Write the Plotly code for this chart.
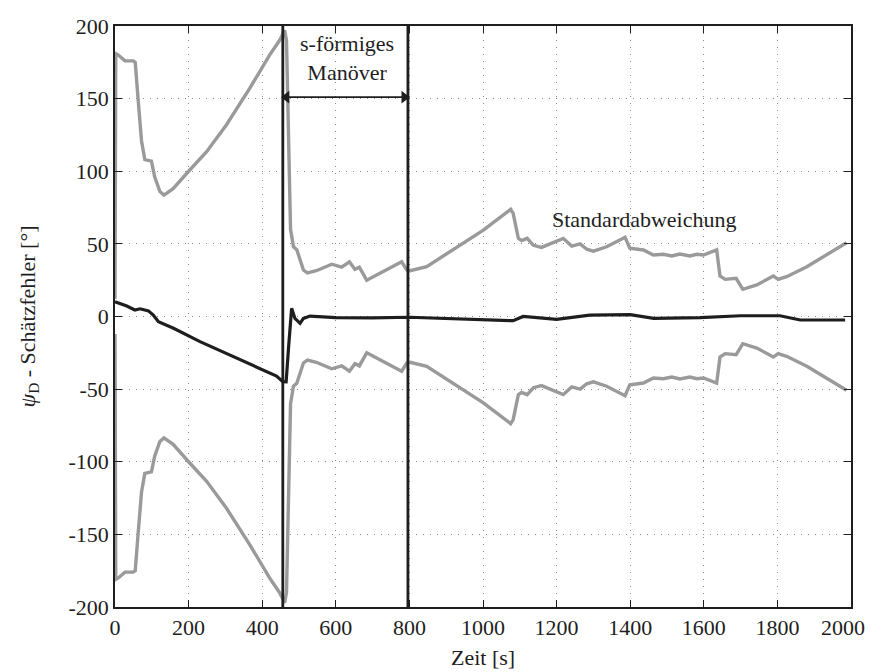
import plotly.graph_objects as go

# Standard deviation envelope (drawn as +/- around zero)
t_std = [0, 2, 9, 27, 50, 55, 63, 72, 81, 99,
         108, 122, 133, 158, 200, 249, 303, 366, 420, 447,
         455, 461, 466, 470, 473, 477, 485, 494, 512, 523,
         547, 589, 616, 637, 652, 664, 684, 720, 779, 793,
         802, 847, 910, 1001, 1075, 1082, 1096, 1105, 1120, 1137,
         1159, 1196, 1218, 1241, 1264, 1282, 1300, 1336, 1372, 1386,
         1399, 1418, 1436, 1463, 1490, 1513, 1535, 1562, 1581, 1599,
         1626, 1635, 1644, 1658, 1688, 1706, 1744, 1789, 1802, 1825,
         1880, 1934, 1988]
std = [12, 181, 180, 176, 176, 175, 149, 121, 108, 107,
       96, 86, 83.6, 88, 100, 113.5, 132, 157, 180, 190,
       194, 197, 190, 150, 100, 60, 48, 46, 32, 30,
       31.5, 36, 34, 37.7, 32.5, 34, 25, 29.7, 37.7, 32,
       31.5, 34.3, 44.6, 59.5, 73.8, 71, 53.8, 52.2, 53.8, 49,
       47.6, 51.5, 53.8, 48.5, 50, 46.3, 45, 48, 52.7, 54.5,
       47, 46.3, 45.8, 42.3, 42.8, 41.7, 43, 41.7, 42.8, 42.3,
       44.6, 45.8, 27.9, 25.6, 26.3, 18.7, 21.7, 27.9, 25.6, 27.4,
       34.3, 42.3, 50.8]

# Heading estimation error
t_err = [0, 32, 54, 68, 91, 104, 118, 159, 231, 322,
         403, 439, 456, 465, 472, 480, 489, 503, 512, 530,
         600, 700, 800, 900, 1000, 1082, 1109, 1200, 1290, 1400,
         1464, 1590, 1700, 1807, 1862, 1984]
err = [10.2, 7.2, 4.5, 5.3, 3.9, 1, -3.6, -8.1, -17.3, -27.7,
       -36.8, -41, -44.9, -45, -20, 5.6, -1.3, -4.7, -1.3, 0.3,
       -0.8, -1, -0.5, -1.3, -2.5, -2.9, 0, -2, 1, 1.3,
       -1.3, -0.8, 0.5, 0.5, -2.4, -2.4]

# Maneuver boundaries and the double arrow between them
maneuver_bounds = [456, 796]
arrow_x = [466, 786]
arrow_y = [151, 151]

x_ticks = [0, 200, 400, 600, 800, 1000, 1200, 1400, 1600, 1800]
x_ticktext = ["0", "200", "400", "600", "800", "1000", "1200", "1400", "1600", "1800"]
x_last_tick = 2000
x_last_label = "2000"
y_ticks = [-200, -150, -100, -50, 0, 50, 100, 150, 200]
y_ticktext = ["-200", "-150", "-100", "-50", "0", "50", "100", "150", "200"]

x_title = "Zeit [s]"
y_title = "<i>ψ</i><sub>D</sub> - Schätzfehler [°]"

GRAY = "#9a9a9a"
DARK = "#1e1e1e"
FONT = "Times New Roman"
FS = 22

fig = go.Figure()
fig.add_trace(go.Scatter(x=t_std, y=std, mode="lines",
                         line=dict(color=GRAY, width=3.4), hoverinfo="skip"))
fig.add_trace(go.Scatter(x=t_std, y=[-v for v in std], mode="lines",
                         line=dict(color=GRAY, width=3.4), hoverinfo="skip"))
fig.add_trace(go.Scatter(x=t_err, y=err, mode="lines",
                         line=dict(color=DARK, width=3.2), hoverinfo="skip"))

for xb in maneuver_bounds:
    fig.add_shape(type="line", xref="x", yref="paper", x0=xb, x1=xb, y0=0, y1=1,
                  line=dict(color=DARK, width=2.8))

# Double-headed arrow spanning the maneuver
fig.add_trace(go.Scatter(x=arrow_x, y=arrow_y, mode="lines+markers",
                         line=dict(color=DARK, width=1.6),
                         marker=dict(symbol=["triangle-left", "triangle-right"], size=11,
                                     color=DARK, line=dict(width=0)),
                         hoverinfo="skip"))

fig.add_annotation(x=630, y=178, xref="x", yref="y", text="s-förmiges<br>Manöver",
                   showarrow=False, font=dict(family=FONT, size=FS, color=DARK))
fig.add_annotation(x=1438, y=66.5, xref="x", yref="y", text="Standardabweichung",
                   showarrow=False, font=dict(family=FONT, size=FS, color=DARK))

# Last x tick label, kept inside the page edge; its tick mark sits on the frame
fig.add_annotation(x=x_last_tick, y=0, xref="x", yref="paper", text=x_last_label,
                   showarrow=False, xanchor="right", yanchor="top", xshift=16, yshift=-6,
                   font=dict(family=FONT, size=FS, color=DARK))

# Axis titles
fig.add_annotation(x=0.5, y=0, xref="paper", yref="paper", text=x_title,
                   showarrow=False, xanchor="center", yanchor="middle", yshift=-50,
                   font=dict(family=FONT, size=FS, color=DARK))
fig.add_annotation(x=0, y=0.5, xref="paper", yref="paper", text=y_title,
                   showarrow=False, xanchor="center", yanchor="middle", xshift=-87,
                   textangle=-90, font=dict(family=FONT, size=FS, color=DARK))

fig.update_layout(
    width=870, height=672,
    margin=dict(l=115, r=19, t=26, b=65),
    paper_bgcolor="white", plot_bgcolor="white",
    showlegend=False,
    font=dict(family=FONT, size=FS, color=DARK),
)
fig.update_xaxes(range=[0, 2000], tickvals=x_ticks, ticktext=x_ticktext,
                 ticks="inside", ticklen=7, automargin=False,
                 tickcolor=DARK, showline=True, linecolor=DARK, linewidth=1.5,
                 mirror="ticks", showgrid=True, gridcolor="#8a8a8a", griddash="1px,6px",
                 gridwidth=1, zeroline=False, tickfont=dict(family=FONT, size=FS))
fig.update_yaxes(range=[-200, 200], tickvals=y_ticks, ticktext=y_ticktext,
                 ticks="inside", ticklen=7, tickcolor=DARK, showline=True, automargin=False,
                 linecolor=DARK, linewidth=1.5, mirror="ticks", showgrid=True,
                 gridcolor="#8a8a8a", griddash="1px,6px", gridwidth=1, zeroline=False,
                 tickfont=dict(family=FONT, size=FS))

fig.write_html("out.html")
